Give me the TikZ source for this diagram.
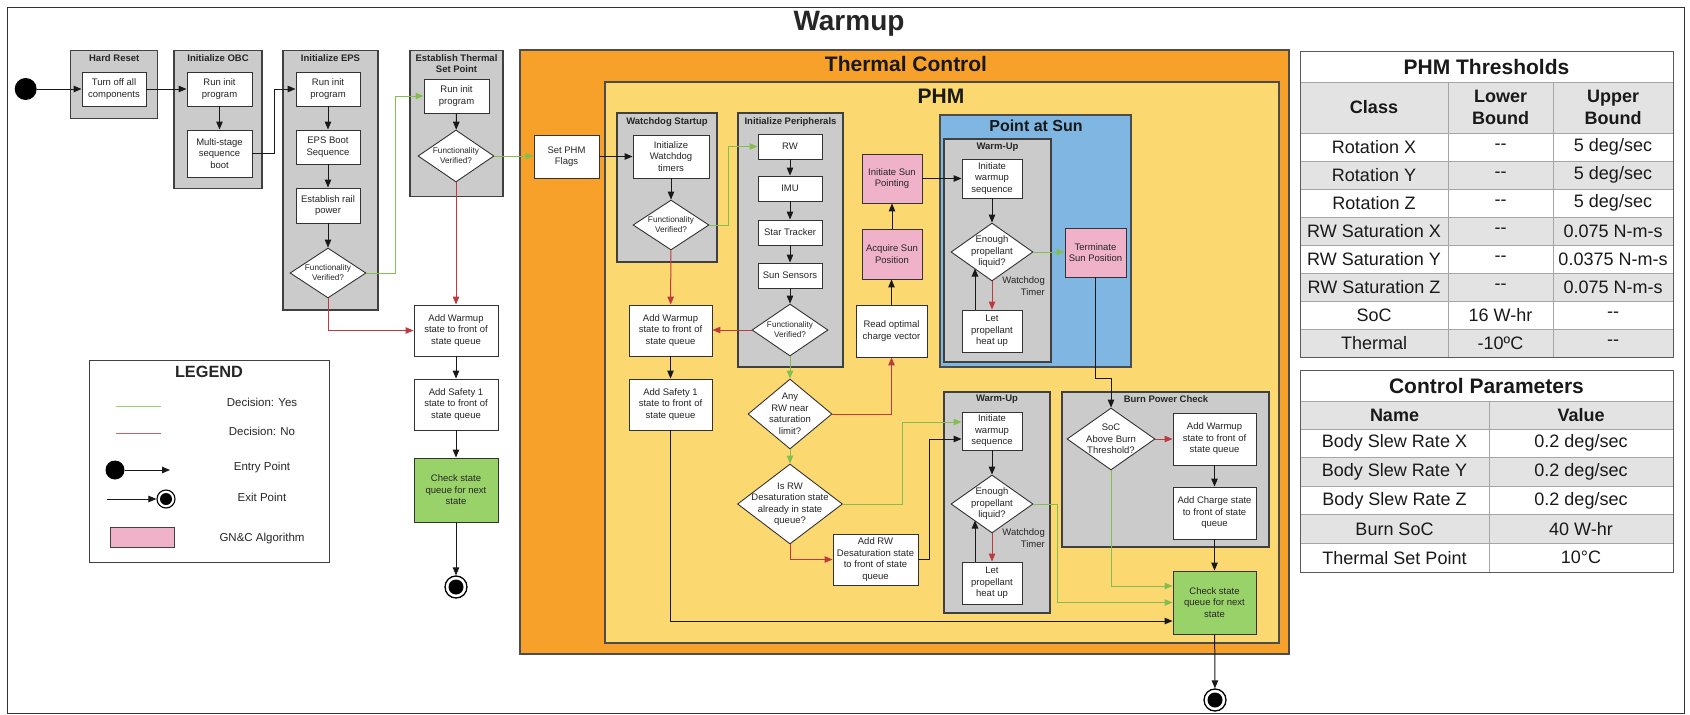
\documentclass[tikz,border=0pt]{standalone}
\usepackage{fontspec}
\setmainfont{Liberation Sans}
\usetikzlibrary{shapes.geometric,arrows.meta,calc}

\definecolor{orangeC}{HTML}{F7A12B}
\definecolor{yellowC}{HTML}{FCD870}
\definecolor{blueC}{HTML}{80B6E2}
\definecolor{grayC}{HTML}{CBCBCB}
\definecolor{pinkC}{HTML}{F0B2C8}
\definecolor{greenC}{HTML}{9AD26A}
\definecolor{hdrC}{HTML}{E3E3E3}
\definecolor{lineG}{HTML}{82BE50}
\definecolor{lineR}{HTML}{BE3A3F}

% decision diamond with its text set on top
\newcommand{\decision}[6][dtext]{%
  \node[dec,minimum width=#4,minimum height=#5] (#2) at (#3) {};
  \node[#1] (#2-t) at (#2.center) {#6};}

% table rows
\newcommand{\thrrow}[4]{%
  \node[tcell] (thr-#1-a) at (1374,{147+28*#1}) {#2};
  \node[tcell] (thr-#1-b) at (1500.5,{147+28*#1}) {#3};
  \node[tcell] (thr-#1-c) at (1613,{147+28*#1}) {#4};}
\newcommand{\parrow}[3]{%
  \node[tcell] (par-#1-a) at (1394.5,{443.3+28.6*#1}) {#2};
  \node[tcell] (par-#1-b) at (1581,{443.3+28.6*#1}) {#3};}

\begin{document}
\begin{tikzpicture}[x=1pt,y=-1pt,
  every node/.style={inner sep=0pt},
  box/.style={draw=black!80, line width=0.9pt, fill=white, align=center, text=black!85,
              font=\fontsize{9.5}{11.5}\selectfont},
  pinkbox/.style={box, fill=pinkC},
  greenbox/.style={box, fill=greenC},
  dec/.style={diamond, draw=black!80, line width=0.9pt, fill=white, inner sep=0pt},
  dtext/.style={align=center, text=black!85, font=\fontsize{9.5}{11.5}\selectfont},
  dsmall/.style={align=center, text=black!85, font=\fontsize{8.2}{10}\selectfont},
  grp/.style={draw=black!75, line width=1.1pt, fill=grayC},
  gtitle/.style={font=\bfseries\fontsize{9.5}{11}\selectfont, text=black!85, align=center},
  arr/.style={-{Triangle[length=8pt,width=6.5pt]}, line width=1pt, color=black!90},
  yes/.style={arr, color=lineG},
  no/.style={arr, color=lineR},
  tcell/.style={font=\fontsize{18}{22}\selectfont, text=black!90, align=center},
  thead/.style={font=\bfseries\fontsize{18}{22}\selectfont, text=black!90, align=center},
  ttitle/.style={font=\bfseries\fontsize{21}{24}\selectfont, text=black!90},
  tline/.style={draw=black!35, line width=0.8pt},
  legtext/.style={font=\fontsize{11.5}{13}\selectfont, text=black!85},
  exitring/.style={circle, draw=black, line width=1.3pt, fill=white},
]
\useasboundingbox (0,0) rectangle (1690,715);

% ---------- page frame and title ----------
\draw[line width=1pt, black!80] (7,7) rectangle (1684,713);
\node[font=\bfseries\fontsize{28}{32}\selectfont, text=black!85] (title) at (849,24) {Warmup};

% ---------- containers ----------
\draw[fill=orangeC, draw=black!70, line width=1.2pt] (520,50) rectangle (1289,654);
\draw[fill=yellowC, draw=black!70, line width=1.2pt] (605,82) rectangle (1279,643);
\node[font=\bfseries\fontsize{21}{24}\selectfont, text=black!90] (tcTitle) at (906,64) {Thermal Control};
\node[font=\bfseries\fontsize{21}{24}\selectfont, text=black!90] (phmTitle) at (941,96) {PHM};
\draw[fill=blueC, draw=black!70, line width=1.1pt] (940,115) rectangle (1131,367);
\node[font=\bfseries\fontsize{16}{19}\selectfont, text=black!90] (sunTitle) at (1036,126) {Point at Sun};

\draw[grp] (70.7,50.7) rectangle (157.7,118.3);
\node[gtitle] (gHard) at (114.2,57.7) {Hard Reset};
\draw[grp] (174,50.7) rectangle (262,188.7);
\node[gtitle] (gOBC) at (218,57.7) {Initialize OBC};
\draw[grp] (283,50.7) rectangle (378,310);
\node[gtitle] (gEPS) at (330.5,57.7) {Initialize EPS};
\draw[grp] (410,50.7) rectangle (503,196.7);
\node[gtitle] (gTherm) at (456.5,63.5) {Establish Thermal\\Set Point};
\draw[grp] (617,113) rectangle (717,262);
\node[gtitle] (gWatch) at (667,122) {Watchdog Startup};
\draw[grp] (738,113) rectangle (843,367);
\node[gtitle] (gPeriph) at (790.5,122) {Initialize Peripherals};
\draw[grp] (944,139) rectangle (1051,362);
\node[gtitle] (gWarmA) at (997.5,147) {Warm-Up};
\draw[grp] (944,392) rectangle (1050,613);
\node[gtitle] (gWarmB) at (997,399) {Warm-Up};
\draw[grp] (1062,392) rectangle (1269,547);
\node[gtitle] (gBurn) at (1166,399) {Burn Power Check};

% ---------- start-up chain ----------
\node[circle, fill=black, minimum size=22pt] (entry) at (25.7,89) {};
\node[box, minimum width=64pt, minimum height=34pt] (turnoff) at (114,89) {Turn off all\\components};
\node[box, minimum width=65pt, minimum height=34pt] (obcinit) at (219.5,89) {Run init\\program};
\node[box, minimum width=65pt, minimum height=47pt] (obcboot) at (219.5,153.5) {Multi-stage\\sequence\\boot};
\node[box, minimum width=64pt, minimum height=34pt] (epsinit) at (328,89) {Run init\\program};
\node[box, minimum width=64pt, minimum height=34pt] (epsboot) at (328,147) {EPS Boot\\Sequence};
\node[box, minimum width=64pt, minimum height=35pt] (epsrail) at (328,205.5) {Establish rail\\power};
\decision[dsmall]{epsdec}{328,273}{76pt}{50pt}{Functionality\\Verified?}
\node[box, minimum width=65pt, minimum height=34pt] (thinit) at (456.5,96) {Run init\\program};
\decision[dsmall]{thdec}{456,156}{76pt}{52pt}{Functionality\\Verified?}
\node[box, minimum width=84pt, minimum height=51pt] (lwarm) at (456,330.5) {Add Warmup\\state to front of\\state queue};
\node[box, minimum width=84pt, minimum height=51pt] (lsafe) at (456,404.5) {Add Safety 1\\state to front of\\state queue};
\node[greenbox, minimum width=84pt, minimum height=64pt] (lcheck) at (456,490) {Check state\\queue for next\\state};
\node[exitring, minimum size=22pt] (lexit) at (456,587) {};
\node[circle, fill=black, minimum size=15pt] (lexit-c) at (lexit) {};

% ---------- PHM ----------
\node[box, minimum width=65pt, minimum height=43pt] (setphm) at (566.5,156.5) {Set PHM\\Flags};
\node[box, minimum width=76pt, minimum height=43pt] (wdinit) at (671,156.5) {Initialize\\Watchdog\\timers};
\decision[dsmall]{wddec}{671,225}{76pt}{50pt}{Functionality\\Verified?}
\node[box, minimum width=83pt, minimum height=51pt] (pwarm) at (670.5,330.5) {Add Warmup\\state to front of\\state queue};
\node[box, minimum width=83pt, minimum height=51pt] (psafe) at (670.5,404.5) {Add Safety 1\\state to front of\\state queue};

\node[box, minimum width=64pt, minimum height=25pt] (rw) at (790,146.5) {RW};
\node[box, minimum width=64pt, minimum height=25pt] (imu) at (790,188.5) {IMU};
\node[box, minimum width=64pt, minimum height=25pt] (star) at (790,232.5) {Star Tracker};
\node[box, minimum width=64pt, minimum height=25pt] (sunsens) at (790,275.5) {Sun Sensors};
\decision[dsmall]{perdec}{790,330}{76pt}{52pt}{Functionality\\Verified?}
\decision{anyrw}{790,414}{84pt}{70pt}{Any\\RW near\\saturation\\limit?}
\decision{isrw}{790,504}{105pt}{80pt}{Is RW\\Desaturation state\\already in state\\queue?}
\node[box, minimum width=85pt, minimum height=51pt] (addrw) at (875.5,559.5) {Add RW\\Desaturation state\\to front of state\\queue};

\node[box, minimum width=71pt, minimum height=52pt] (readopt) at (891.5,331) {Read optimal\\charge vector};
\node[pinkbox, minimum width=60pt, minimum height=50pt] (acquire) at (892,254) {Acquire Sun\\Position};
\node[pinkbox, minimum width=60pt, minimum height=49pt] (initsun) at (892,178.5) {Initiate Sun\\Pointing};

\node[box, minimum width=60pt, minimum height=39pt] (w1init) at (992,178.5) {Initiate\\warmup\\sequence};
\decision{w1dec}{992,252}{82pt}{58pt}{Enough\\propellant\\liquid?}
\node[box, minimum width=60pt, minimum height=42pt] (w1let) at (992,331) {Let\\propellant\\heat up};
\node[dtext, align=right, anchor=east] (w1wd) at (1045,286) {Watchdog\\Timer};
\node[pinkbox, minimum width=61pt, minimum height=49pt] (terminate) at (1095.5,252.5) {Terminate\\Sun Position};

\node[box, minimum width=60pt, minimum height=38pt] (w2init) at (992,431) {Initiate\\warmup\\sequence};
\decision{w2dec}{992,504}{82pt}{58pt}{Enough\\propellant\\liquid?}
\node[box, minimum width=60pt, minimum height=42pt] (w2let) at (992,583) {Let\\propellant\\heat up};
\node[dtext, align=right, anchor=east] (w2wd) at (1045,538) {Watchdog\\Timer};

\decision{socdec}{1111,439}{88pt}{62pt}{SoC\\Above Burn\\Threshold?}
\node[box, minimum width=83pt, minimum height=52pt] (bwarm) at (1214.5,439) {Add Warmup\\state to front of\\state queue};
\node[box, minimum width=83pt, minimum height=52pt] (bcharge) at (1214.5,513) {Add Charge state\\to front of state\\queue};
\node[greenbox, minimum width=83pt, minimum height=63pt] (pcheck) at (1214.5,602.5) {Check state\\queue for next\\state};
\node[exitring, minimum size=22pt] (pexit) at (1215,700) {};
\node[circle, fill=black, minimum size=15pt] (pexit-c) at (pexit) {};

% ---------- connectors: sequence ----------
\draw[arr] (entry) -- (turnoff);
\draw[arr] (turnoff) -- (obcinit);
\draw[arr] (obcinit) -- (obcboot);
\draw[arr] (obcboot.east) -- ++(22,0) |- (epsinit.west);
\draw[arr] (epsinit) -- (epsboot);
\draw[arr] (epsboot) -- (epsrail);
\draw[arr] (epsrail) -- (epsdec);
\draw[arr] (thinit) -- (thdec);
\draw[arr] (lwarm) -- (lsafe);
\draw[arr] (lsafe) -- (lcheck);
\draw[arr] (lcheck) -- (lexit);
\draw[arr] (setphm) -- (wdinit);
\draw[arr] (wdinit) -- (wddec);
\draw[arr] (rw) -- (imu);
\draw[arr] (imu) -- (star);
\draw[arr] (star) -- (sunsens);
\draw[arr] (sunsens) -- (perdec);
\draw[arr] (pwarm) -- (psafe);
\draw[arr] (readopt.north) -- (readopt.north |- acquire.south);
\draw[arr] (acquire) -- (initsun);
\draw[arr] (initsun) -- (w1init);
\draw[arr] (w1init) -- (w1dec);
\draw[arr] ([xshift=-17pt]w1let.north) -- ++(0,-41);
\draw[arr] (terminate.south) -- ++(0,101) -| (socdec.north);
\draw[arr] (addrw.east) -- ++(11,0) |- ([yshift=-8pt]w2init.west);
\draw[arr] (w2init) -- (w2dec);
\draw[arr] ([xshift=-17pt]w2let.north) -- ++(0,-41);
\draw[arr] (bwarm) -- (bcharge);
\draw[arr] (bcharge) -- (pcheck);
\draw[arr] (psafe.south) |- ([yshift=-18.5pt]pcheck.west);
\draw[arr] (pcheck) -- (pexit);

% ---------- connectors: decisions ----------
\draw[yes] (epsdec.east) -- ++(29,0) |- (thinit.west);
\draw[yes] (thdec.east) -- (thdec.east -| setphm.west);
\draw[yes] (wddec.east) -- ++(19,0) |- (rw.west);
\draw[yes] (perdec) -- (anyrw);
\draw[yes] (anyrw) -- (isrw);
\draw[yes] (isrw.east) -- ++(59.5,0) |- ([yshift=9pt]w2init.west);
\draw[yes] (w1dec.east) -- (w1dec.east -| terminate.west);
\draw[yes] (w2dec.east) -- ++(24,0) |- (pcheck.west);
\draw[yes] (socdec.south) |- ([yshift=16.5pt]pcheck.west);

\draw[no] (epsdec.south) |- (lwarm.west);
\draw[no] (thdec) -- (lwarm);
\draw[no] (wddec) -- (pwarm);
\draw[no] (perdec.west) -- (perdec.west -| pwarm.east);
\draw[no] (anyrw.east) -| (readopt.south);
\draw[no] (isrw.south) |- (addrw.west);
\draw[no] (w1dec) -- (w1let);
\draw[no] (w2dec) -- (w2let);
\draw[no] (socdec.east) -- (socdec.east -| bwarm.west);

% ---------- legend ----------
\draw[draw=black!75, line width=1pt, fill=white] (89,360) rectangle (329,562);
\node[font=\bfseries\fontsize{16.3}{19}\selectfont, text=black!85] (legTitle) at (209,372) {LEGEND};
\coordinate (lgYesA) at (116,406);
\coordinate (lgYesB) at (161,406);
\draw[lineG!80, line width=0.9pt] (lgYesA) -- (lgYesB);
\node[legtext] (lgYesT) at (262,402) {Decision: Yes};
\coordinate (lgNoA) at (116,433);
\coordinate (lgNoB) at (161,433);
\draw[lineR!80, line width=0.9pt] (lgNoA) -- (lgNoB);
\node[legtext] (lgNoT) at (262,431) {Decision: No};
\node[circle, fill=black, minimum size=19pt] (lgEntry) at (115,470) {};
\coordinate (lgEntryEnd) at (170,470);
\draw[arr] (lgEntry) -- (lgEntryEnd);
\node[legtext] (lgEntryT) at (262,468) {Entry Point};
\coordinate (lgExitStart) at (107,499);
\node[exitring, minimum size=18pt, line width=1.1pt] (lgExit) at (166,499) {};
\node[circle, fill=black, minimum size=12pt] (lgExit-c) at (lgExit) {};
\draw[arr] (lgExitStart) -- (lgExit);
\node[legtext] (lgExitT) at (262,497) {Exit Point};
\node[draw=black!75, line width=0.9pt, fill=pinkC, minimum width=64pt, minimum height=20pt] (lgPink) at (142,537) {};
\node[legtext] (lgPinkT) at (262,539) {GN\&C Algorithm};

% ---------- PHM thresholds table ----------
\fill[hdrC] (1300,82) rectangle (1673,133);
\foreach \i in {1,3,5,7} \fill[hdrC] (1300,{133+28*\i}) rectangle (1673,{161+28*\i});
\foreach \i in {0,...,8} \draw[tline] (1300,{133+28*\i}) -- (1673,{133+28*\i});
\draw[tline] (1300,82) -- (1673,82);
\draw[tline] (1448,82) -- (1448,357);
\draw[tline] (1553,82) -- (1553,357);
\draw[draw=black!65, line width=1pt] (1300,51) rectangle (1673,357);
\node[ttitle] (thrTitle) at (1486.5,66.5) {PHM Thresholds};
\node[thead] (thr-h-a) at (1374,107.5) {Class};
\node[thead] (thr-h-b) at (1500.5,107.5) {Lower\\Bound};
\node[thead] (thr-h-c) at (1613,107.5) {Upper\\Bound};
\thrrow{0}{Rotation X}{-{}-}{5 deg/sec}
\thrrow{1}{Rotation Y}{-{}-}{5 deg/sec}
\thrrow{2}{Rotation Z}{-{}-}{5 deg/sec}
\thrrow{3}{RW Saturation X}{-{}-}{0.075 N-m-s}
\thrrow{4}{RW Saturation Y}{-{}-}{0.0375 N-m-s}
\thrrow{5}{RW Saturation Z}{-{}-}{0.075 N-m-s}
\thrrow{6}{SoC}{16 W-hr}{-{}-}
\thrrow{7}{Thermal}{-10ºC}{-{}-}

% ---------- control parameters table ----------
\fill[hdrC] (1300,401) rectangle (1673,429);
\foreach \i in {1,3} \fill[hdrC] (1300,{429+28.6*\i}) rectangle (1673,{457.6+28.6*\i});
\foreach \i in {0,...,4} \draw[tline] (1300,{429+28.6*\i}) -- (1673,{429+28.6*\i});
\draw[tline] (1300,401) -- (1673,401);
\draw[tline] (1489,401) -- (1489,572);
\draw[draw=black!65, line width=1pt] (1300,370) rectangle (1673,572);
\node[ttitle] (parTitle) at (1486.5,385.5) {Control Parameters};
\node[thead] (par-h-a) at (1394.5,415) {Name};
\node[thead] (par-h-b) at (1581,415) {Value};
\parrow{0}{Body Slew Rate X}{0.2 deg/sec}
\parrow{1}{Body Slew Rate Y}{0.2 deg/sec}
\parrow{2}{Body Slew Rate Z}{0.2 deg/sec}
\parrow{3}{Burn SoC}{40 W-hr}
\parrow{4}{Thermal Set Point}{10°C}
\end{tikzpicture}
\end{document}
